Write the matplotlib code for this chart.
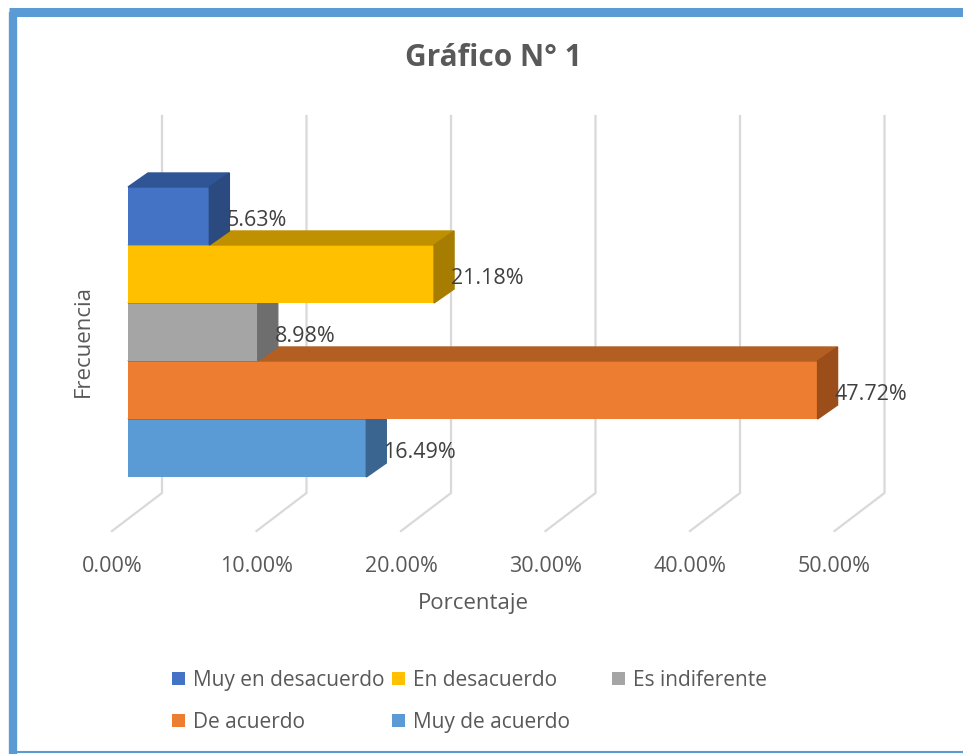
import matplotlib
matplotlib.use("Agg")
import matplotlib.pyplot as plt
from matplotlib.patches import Polygon, Patch
from matplotlib.lines import Line2D
from matplotlib.transforms import ScaledTranslation

plt.rcParams['font.family'] = ['Open Sans', 'DejaVu Sans']

# Datos del gráfico
categorias = ['Muy en desacuerdo', 'En desacuerdo', 'Es indiferente',
              'De acuerdo', 'Muy de acuerdo']
porcentajes = [5.63, 21.18, 8.98, 47.72, 16.49]
ticks = [0, 10, 20, 30, 40, 50]
tick_labels = ['0.00%', '10.00%', '20.00%', '30.00%', '40.00%', '50.00%']

# colores: frente, cara superior, cara lateral
frente = ['#4472C4', '#FFC000', '#A5A5A5', '#ED7D31', '#5B9BD5']
arriba = ['#2F5597', '#BF9000', '#7F7F7F', '#B45F22', '#41719C']
lado = ['#2A4A80', '#A67D00', '#6E6E6E', '#9C4E1A', '#3B6591']

GRIS_TXT = '#595959'

fig = plt.figure(figsize=(9.63, 7.54), dpi=100)
W, H = 963, 754

# ejes: frente de las barras
ax = fig.add_axes([128 / W, (H - 477) / H, 722.5 / W, 290 / H])
ax.set_xlim(0, 50)
ax.set_ylim(4.5, -0.5)
for s in ax.spines.values():
    s.set_visible(False)
ax.set_yticks([])

# profundidad 3D en unidades de datos
px_x = 722.5 / 50
px_y = 58.0
DX, DY = 20 / px_x, -14 / px_y
GX = 34 / px_x                      # pared del fondo
FX = -16 / px_x                     # borde frontal del piso
G_TOP = (116 - 187) / px_y - 0.5
G_BOT = (493 - 187) / px_y - 0.5
F_Y = (531 - 187) / px_y - 0.5

# líneas de cuadrícula (pared + piso)
for t in ticks:
    ax.add_line(Line2D([t + GX, t + GX, t + FX], [G_TOP, G_BOT, F_Y],
                       color='#D9D9D9', lw=1.6, clip_on=False, zorder=1))

# barras, de abajo hacia arriba
for i in range(len(porcentajes) - 1, -1, -1):
    v = porcentajes[i]
    z = 10 + (len(porcentajes) - i) * 3
    y0, y1 = i - 0.5, i + 0.5
    ax.barh(i, v, height=1.0, left=0, color=frente[i], zorder=z)
    ax.add_patch(Polygon([(0, y0), (v, y0), (v + DX, y0 + DY), (DX, y0 + DY)],
                         closed=True, color=arriba[i], zorder=z + 1, clip_on=False))
    ax.add_patch(Polygon([(v, y0), (v + DX, y0 + DY), (v + DX, y1 + DY), (v, y1)],
                         closed=True, color=lado[i], zorder=z + 1, clip_on=False))

for i, v in enumerate(porcentajes):
    ax.text(v + 17 / px_x, i + 0.08, f'{v:.2f}%', ha='left', va='center',
            fontsize=15.5, color='#404040', zorder=40, clip_on=False)

# etiquetas del eje x
ax.set_xticks(ticks)
ax.set_xticklabels(tick_labels, fontsize=15.5, color=GRIS_TXT)
ax.tick_params(axis='x', length=0, pad=57)
for lab in ax.get_xticklabels():
    lab.set_transform(lab.get_transform() + ScaledTranslation(-16 / 100, 0, fig.dpi_scale_trans))

ax.set_xlabel('Porcentaje', fontsize=16, color=GRIS_TXT)
ax.xaxis.label.set_va('center')
ax.xaxis.set_label_coords((473 - 128) / 722.5, -(604 - 477) / 290)
ax.set_ylabel('Frecuencia', fontsize=16, color=GRIS_TXT)
ax.yaxis.label.set_va('center')
ax.yaxis.set_label_coords((83 - 128) / 722.5, (477 - 341) / 290)

# título
fig.text(493 / W, 1 - 58 / H, 'Gráfico N° 1', ha='center', va='center',
         fontsize=21.5, fontweight='bold', color=GRIS_TXT)

# leyenda: filas como en Excel
handles = [Patch(facecolor=c, edgecolor='none') for c in frente]
columnas = [([0, 3], 172), ([1, 4], 392), ([2], 612)]
for idx, x0 in columnas:
    leg = fig.legend([handles[j] for j in idx], [categorias[j] for j in idx],
                     loc='upper left', bbox_to_anchor=(x0 / W, 1 - 670 / H),
                     frameon=False, fontsize=15, borderpad=0, borderaxespad=0,
                     handlelength=0.6, handleheight=0.6, handletextpad=0.4,
                     labelspacing=1.0, labelcolor=GRIS_TXT)

# marco azul del documento
borde = '#5B9BD5'
fig.add_artist(Line2D([13 / W, 13 / W], [1 - 11.5 / H, 0], color=borde, lw=6,
                      transform=fig.transFigure, solid_capstyle='butt'))
fig.add_artist(Line2D([9 / W, 1], [1 - 11.5 / H, 1 - 11.5 / H], color=borde, lw=6.5,
                      transform=fig.transFigure, solid_capstyle='butt'))
fig.add_artist(Line2D([9 / W, 1], [1 - 752 / H, 1 - 752 / H], color=borde, lw=1.5,
                      transform=fig.transFigure, solid_capstyle='butt'))

fig.savefig('out.png', dpi=100)
